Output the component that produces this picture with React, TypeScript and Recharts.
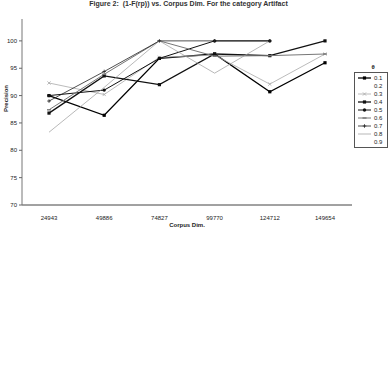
import React from 'react';
import { LineChart, Line, XAxis, YAxis, Legend } from 'recharts';

const corpusDims = ['24943', '49886', '74827', '99770', '124712', '149654'];
const thetas = ['0.1', '0.2', '0.3', '0.4', '0.5', '0.6', '0.7', '0.8', '0.9'];
const yTicks = [70, 75, 80, 85, 90, 95, 100];

const theta01 = [90.0, 86.4, 96.8, 97.6, 90.7, 96.0];
const theta03 = [92.3, 90.2, 97.0, 97.4, 92.1, 97.6];
const theta04 = [86.8, 93.6, 92.0, 97.6, 97.3, 100];
const theta05 = [90.0, 91.0, 96.8, 100, 100, null];
const theta06 = [87.4, 93.9, 100, 97.2, 97.3, 97.6];
const theta07 = [89.0, 94.4, 100, 100, 100, null];
const theta08 = [83.3, 91.5, 100, 94.1, 100, null];

const seriesValues: Record<string, (number | null)[]> = {
  '0.1': theta01,
  '0.3': theta03,
  '0.4': theta04,
  '0.5': theta05,
  '0.6': theta06,
  '0.7': theta07,
  '0.8': theta08,
};

type MarkerKind = 'square' | 'cross' | 'circle' | 'plus' | 'dash' | 'none';
interface SeriesStyle {
  color: string;
  width: number;
  marker: MarkerKind;
}

// 0.2 and 0.9 show nothing in the legend, so they have no style here
const styles: Record<string, SeriesStyle> = {
  '0.1': { color: '#000', width: 1.3, marker: 'square' },
  '0.3': { color: '#aaa', width: 0.8, marker: 'cross' },
  '0.4': { color: '#111', width: 1.3, marker: 'square' },
  '0.5': { color: '#111', width: 1, marker: 'circle' },
  '0.6': { color: '#777', width: 1, marker: 'dash' },
  '0.7': { color: '#222', width: 0.8, marker: 'plus' },
  '0.8': { color: '#999', width: 0.7, marker: 'none' },
};

const data = corpusDims.map((dim, i) => {
  const row: Record<string, string | number | null> = { dim };
  Object.keys(seriesValues).forEach((k) => {
    row[k] = seriesValues[k][i];
  });
  return row;
});

const font = '"Liberation Sans", Arial, sans-serif';

const drawMarker = (kind: MarkerKind, color: string, cx: number, cy: number, key?: string) => {
  switch (kind) {
    case 'square':
      return <rect key={key} x={cx - 1.6} y={cy - 1.6} width={3.2} height={3.2} fill={color} />;
    case 'circle':
      return <circle key={key} cx={cx} cy={cy} r={1.7} fill={color} />;
    case 'cross':
      return (
        <path key={key} d={`M${cx - 1.6},${cy - 1.6}L${cx + 1.6},${cy + 1.6}M${cx - 1.6},${cy + 1.6}L${cx + 1.6},${cy - 1.6}`} stroke={color} strokeWidth={0.8} />
      );
    case 'plus':
      return <path key={key} d={`M${cx - 1.8},${cy}L${cx + 1.8},${cy}M${cx},${cy - 1.8}L${cx},${cy + 1.8}`} stroke={color} strokeWidth={0.8} />;
    case 'dash':
      return <path key={key} d={`M${cx - 2},${cy}L${cx + 2},${cy}`} stroke={color} strokeWidth={1.4} />;
    default:
      return <g key={key} />;
  }
};

const makeDot = (s: SeriesStyle) => (props: any) => {
  const { cx, cy, index, value } = props;
  const key = `dot-${index}`;
  if (cx == null || cy == null || value == null) return <g key={key} />;
  return drawMarker(s.marker, s.color, cx, cy, key);
};

const ThetaLegend = () => (
  <div style={{ fontFamily: font, fontSize: 6, color: '#222' }}>
    <div style={{ textAlign: 'center', fontWeight: 'bold', height: 9, lineHeight: '9px', marginLeft: 4, color: '#222' }}>θ</div>
    <div style={{ border: '1px solid #555', padding: '1px 2px', background: '#fff' }}>
      {thetas.map((t) => {
        const s = styles[t];
        return (
          <div key={t} style={{ display: 'flex', alignItems: 'center', height: 8 }}>
            <svg width={15} height={8}>
              {s && <line x1={1} y1={4} x2={14} y2={4} stroke={s.color} strokeWidth={s.width} />}
              {s && drawMarker(s.marker, s.color, 7.5, 4)}
            </svg>
            <span style={{ marginLeft: 2, color: '#222' }}>{t}</span>
          </div>
        );
      })}
    </div>
  </div>
);

export default function App() {
  return (
    <div style={{ position: 'absolute', left: 0, top: 0, width: 389, height: 384, background: '#fff' }}>
      <div
        style={{
          position: 'absolute',
          top: 0,
          left: 0,
          width: 389,
          textAlign: 'center',
          fontFamily: font,
          fontSize: 7,
          lineHeight: '8px',
          fontWeight: 'bold',
          color: '#333',
          marginLeft: -6,
        }}
      >
        Figure 2:&nbsp; (1-F(rp)) vs. Corpus Dim. For the category Artifact
      </div>
      <LineChart width={389} height={384} data={data} margin={{ top: 19, right: 37, bottom: 149, left: 0 }}>
        <XAxis
          dataKey="dim"
          padding={{ left: 27, right: 27 }}
          tick={{ fontSize: 6, fill: '#222', fontFamily: font }}
          tickLine={false}
          tickMargin={5}
          axisLine={{ stroke: '#444', strokeWidth: 1 }}
          height={30}
          label={{ value: 'Corpus Dim.', position: 'insideBottom', offset: 8, fontSize: 6, fontWeight: 'bold', fill: '#222', fontFamily: font }}
        />
        <XAxis xAxisId="top" orientation="top" dataKey="dim" tick={false} tickLine={false} height={0} axisLine={{ stroke: '#999' }} />
        <YAxis
          domain={[70, 104]}
          ticks={yTicks}
          width={22}
          tickSize={3}
          tickMargin={2}
          tick={{ fontSize: 6, fill: '#222', fontFamily: font }}
          tickLine={{ stroke: '#666' }}
          axisLine={{ stroke: '#777' }}
          label={{ value: 'Precision', angle: -90, position: 'insideLeft', offset: 6, fontSize: 6, fontWeight: 'bold', fill: '#222', fontFamily: font }}
        />
        <YAxis yAxisId="right" orientation="right" domain={[70, 104]} tick={false} tickLine={false} width={0} axisLine={{ stroke: '#999' }} />
        <Legend
          layout="vertical"
          align="center"
          verticalAlign="middle"
          content={<ThetaLegend />}
          wrapperStyle={{ left: 354, top: 63, width: 34 }}
        />
        {Object.keys(seriesValues).map((k) => (
          <Line
            key={k}
            dataKey={k}
            name={k}
            stroke={styles[k].color}
            strokeWidth={styles[k].width}
            dot={makeDot(styles[k])}
            activeDot={false}
            isAnimationActive={false}
          />
        ))}
      </LineChart>
    </div>
  );
}
